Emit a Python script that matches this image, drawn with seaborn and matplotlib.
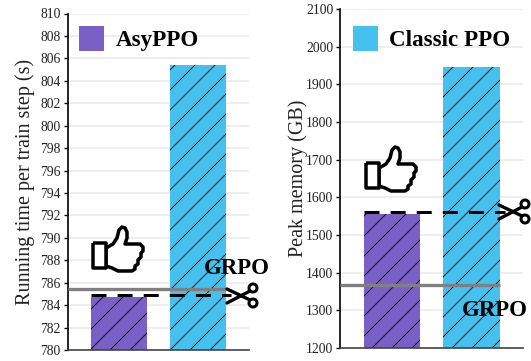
import numpy as np
import pandas as pd
import seaborn as sns
import matplotlib.pyplot as plt
from matplotlib.patches import Patch, Circle, PathPatch
from matplotlib.path import Path
from matplotlib.lines import Line2D
from matplotlib.transforms import Affine2D

algos = ["AsyPPO", "Classic PPO"]
time_values = [784.7, 805.4]
time_grpo = 785.4
time_ticks = list(range(780, 812, 2))
memory_values = [1557, 1945]
memory_grpo = 1368
memory_ticks = list(range(1200, 2200, 100))
colors = ["#7860c4", "#46c0ec"]

W, H = 531, 361
DPI = 120  # hatch tile scales with dpi, 120 gives the spacing of the original

sns.set_theme(style="white")
plt.rcParams["font.family"] = ["Liberation Serif", "DejaVu Serif"]
plt.rcParams["hatch.linewidth"] = 0.5
plt.rcParams["hatch.color"] = "black"

fig = plt.figure(figsize=(W / DPI, H / DPI), dpi=DPI)

# pixel coordinates of the picture, y going down
px = Affine2D().scale(1 / W, -1 / H).translate(0, 1) + fig.transFigure


def make_axes(x0, x1, y0, y1):
    return fig.add_axes([x0 / W, 1 - y1 / H, (x1 - x0) / W, (y1 - y0) / H])


def draw_thumb(dx, dy):
    cuff = [(93, 243), (106, 243), (106, 268), (93, 268), (93, 243)]
    hand = [(106, 248), (113, 244), (117, 238), (119, 230), (122, 227), (125, 228), (127, 232),
            (127, 238), (125, 244), (140, 244), (143, 247), (143, 251), (141, 253),
            (141, 257), (138, 260), (138, 264), (135, 266), (135, 269), (132, 271),
            (118, 271), (112, 268), (106, 266), (106, 248)]
    for pts in (hand, cuff):
        shifted = [(x + dx, y + dy) for x, y in pts]
        patch = PathPatch(Path(shifted), fc="white", ec="black", lw=2.1,
                          joinstyle="round", transform=px, zorder=8)
        fig.add_artist(patch)


def draw_scissors(dx, dy):
    for y0, y1 in ((289, 300), (303, 291)):
        # blade crosses the pivot and runs on to the handle
        fig.add_artist(Line2D([227 + dx, 250 + dx], [y0 + dy, y1 + dy],
                              color="black", lw=2.0, transform=px, zorder=8))
    for cy in (288, 303):
        fig.add_artist(Circle((253 + dx, cy + dy), 4, fc="white", ec="black", lw=1.8,
                              transform=px, zorder=8))


def draw_panel(ax, values, ticks, grpo, dash_y, ylabel, legend_idx, legend_x, legend_y, pad):
    df = pd.DataFrame({"algo": algos, "value": values})
    sns.barplot(data=df, x="algo", y="value", hue="algo", palette=colors, saturation=1,
                width=0.71, legend=False, ax=ax, zorder=2)
    for bar in ax.patches:
        bar.set_hatch("//")
        bar.set_edgecolor("black")
        bar.set_linewidth(0)
    ax.set_xlim(-0.652, 1.646)
    ax.set_ylim(ticks[0], ticks[-1])
    ax.set_yticks(ticks)
    ax.set_xticks([])
    ax.set_xlabel("")
    ax.set_ylabel(ylabel, fontsize=12.1, color="#222222", labelpad=pad)
    ax.tick_params(axis="y", labelsize=8.2, length=2.5, width=0.8, pad=1.5,
                   left=True, color="black", labelcolor="#222222")
    ax.grid(axis="y", color="#ebebeb", lw=1.0, zorder=0)
    ax.set_axisbelow(True)
    sns.despine(ax=ax, top=True, right=True)
    ax.spines["left"].set_color("black")
    ax.spines["left"].set_linewidth(1.0)
    ax.spines["bottom"].set_color("#444444")
    ax.spines["bottom"].set_linewidth(1.0)
    ax.plot([-0.652, 1.355], [grpo, grpo], color="#808080", lw=2.0, zorder=4, solid_capstyle="butt")
    ax.plot([-0.355, 1.42], [dash_y, dash_y], color="black", lw=1.8, zorder=5,
            linestyle=(0, (5, 3.7)), dash_capstyle="butt", clip_on=False)
    handle = Patch(facecolor=colors[legend_idx], edgecolor="none")
    ax.legend(handles=[handle], labels=[algos[legend_idx]], loc="upper left",
              bbox_to_anchor=(legend_x, legend_y), frameon=False, handlelength=1.087,
              handleheight=1.295, handletextpad=0.5, borderpad=0, borderaxespad=0,
              labelcolor="black",
              prop={"family": "Liberation Serif", "weight": "bold", "size": 13.8})


ax1 = make_axes(67.5, 249, 13.5, 350)
ax2 = make_axes(340, 523, 9, 348)

draw_panel(ax1, time_values, time_ticks, time_grpo, 784.9, "Running time per train step (s)",
           0, 0.064, 0.962, 3.3)
draw_panel(ax2, memory_values, memory_ticks, memory_grpo, 1562, "Peak memory (GB)",
           1, 0.071, 0.95, -1.4)

ax1.text(0.934, 786.78, "GRPO", ha="center", va="baseline", fontsize=13.7, fontweight="bold",
         color="black", zorder=6, clip_on=False, transform=ax1.get_yaxis_transform())
ax2.text(0.844, 1285, "GRPO", ha="center", va="baseline", fontsize=13.7, fontweight="bold",
         color="black", zorder=6, clip_on=False, transform=ax2.get_yaxis_transform())

draw_thumb(0, 0)
draw_thumb(273, -80)
draw_scissors(0, 0)
draw_scissors(272, -84)

fig.savefig("out.png", dpi=DPI)
